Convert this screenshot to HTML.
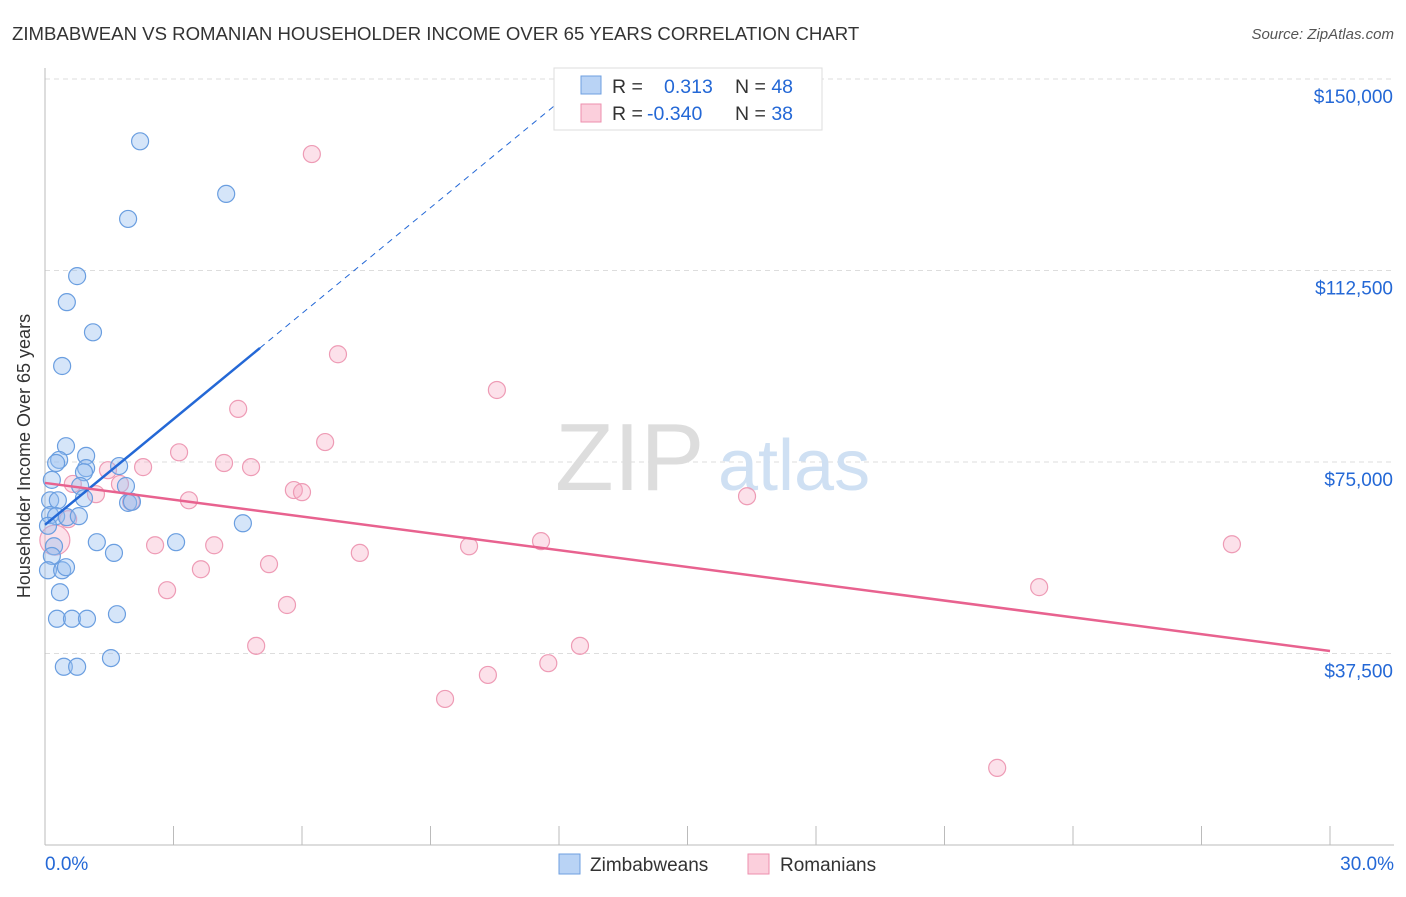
<!DOCTYPE html>
<html><head><meta charset="utf-8"><style>
body{margin:0;background:#fff;font-family:"Liberation Sans",sans-serif;}
svg text{font-family:"Liberation Sans",sans-serif;}
</style></head><body>
<svg id="chart" width="1406" height="892">
<text x="12" y="40" font-size="18.6" fill="#333">ZIMBABWEAN VS ROMANIAN HOUSEHOLDER INCOME OVER 65 YEARS CORRELATION CHART</text>
<text x="1394" y="39" font-size="15" fill="#555" text-anchor="end" font-style="italic">Source: ZipAtlas.com</text>
<text x="30" y="456" font-size="18" fill="#333" text-anchor="middle" transform="rotate(-90 30 456)">Householder Income Over 65 years</text>
<g id="grid"></g>
<g id="axes"></g>
<text x="555" y="490" font-size="96" fill="#ddd" font-family="Liberation Serif">ZIP</text>
<text x="718" y="490" font-size="72" fill="#cfe0f3">atlas</text>
<g id="pts"></g>
<g id="lines"></g>
<g>
<rect x="554" y="68" width="268" height="62" fill="#fff" stroke="#ddd"/>
<rect x="581" y="76" width="20" height="18" fill="#b9d3f5" stroke="#6e9fe0"/>
<rect x="581" y="104" width="20" height="18" fill="#fbcfdc" stroke="#ee8fae"/>
<text x="612" y="93" font-size="19.5" fill="#333">R = <tspan fill="#2468d6" x="664">0.313</tspan><tspan fill="#333" x="735">N = </tspan><tspan fill="#2468d6">48</tspan></text>
<text x="612" y="120" font-size="19.5" fill="#333">R = <tspan fill="#2468d6" x="647">-0.340</tspan><tspan fill="#333" x="735">N = </tspan><tspan fill="#2468d6">38</tspan></text>
</g>
<g>
<rect x="559" y="854" width="21" height="20" fill="#b9d3f5" stroke="#6e9fe0"/>
<text x="590" y="871" font-size="19" fill="#333">Zimbabweans</text>
<rect x="748" y="854" width="21" height="20" fill="#fbcfdc" stroke="#ee8fae"/>
<text x="780" y="871" font-size="19" fill="#333">Romanians</text>
</g>
</svg>
<script>
const yTicks=[37500,75000,112500,150000];
const yTickLabels=["$37,500","$75,000","$112,500","$150,000"];
const xTickLabels=["0.0%","30.0%"];
const blueX=[2.22,4.23,1.94,0.75,0.51,1.12,0.40,0.49,0.33,0.26,0.96,0.96,0.91,1.73,0.16,0.82,1.89,0.12,0.30,0.91,1.94,2.03,0.12,0.26,0.51,0.79,0.07,4.62,1.21,3.06,1.61,0.21,0.16,0.07,0.40,0.49,0.35,0.28,0.63,0.98,1.68,0.44,0.75,1.54];
const blueY=[137.8,127.5,122.6,111.4,106.3,100.4,93.8,78.1,75.4,74.8,76.2,73.8,73.0,74.2,71.5,70.3,70.3,67.5,67.5,67.9,67.0,67.2,64.6,64.4,64.2,64.4,62.5,63.0,59.3,59.3,57.2,58.5,56.6,53.8,53.8,54.4,49.5,44.3,44.3,44.3,45.2,34.9,34.9,36.6];
const pinkX=[6.23,6.84,10.55,4.51,6.54,3.13,4.18,4.81,2.29,1.47,1.75,0.65,1.19,3.36,5.81,6.0,16.39,2.01,0.54,0.23,2.57,3.95,9.90,11.58,27.71,7.35,3.64,5.23,2.85,5.65,23.21,4.93,12.49,11.75,10.34,9.34,22.23];
const pinkY=[135.3,96.1,89.1,85.4,78.9,76.9,74.8,74.0,74.0,73.4,70.7,70.7,68.7,67.5,69.5,69.1,68.3,67.2,63.8,59.7,58.7,58.7,58.5,59.5,58.9,57.2,54.0,55.0,49.9,47.0,50.5,39.0,39.0,35.6,33.3,28.6,15.1];
const blueTrend=[62.7,6.9];
const pinkTrend=[70.9,-1.097];
const X=p=>45+p/30*1285, Y=v=>845-v/150000*766;
const NS="http://www.w3.org/2000/svg";
function mk(t,a,parent){const e=document.createElementNS(NS,t);for(const k in a)e.setAttribute(k,a[k]);document.getElementById(parent).appendChild(e);return e;}
yTicks.forEach((v,i)=>{
 const g=mk('line',{x1:45,x2:1394,y1:Y(v),y2:Y(v),stroke:'#ddd','stroke-dasharray':'5,4'},'grid');
 
 
 const t=mk('text',{x:1393,y:Y(v)+24,'font-size':19,fill:'#2468d6','text-anchor':'end'},'axes');t.textContent=yTickLabels[i];
 
 
});
mk('line',{x1:45,x2:1394,y1:845,y2:845,stroke:'#bbb'},'axes');
mk('line',{x1:45,x2:45,y1:68,y2:845,stroke:'#bbb'},'axes');
for(let i=0;i<=10;i++){const l=mk('line',{x1:X(i*3),x2:X(i*3),y1:826,y2:845,stroke:'#bbb'},'axes');
 
 }
[[0,'start',45],[1,'end',1394]].forEach(([i,a,x])=>{const t=mk('text',{x:x,y:870,'font-size':19,fill:'#2468d6','text-anchor':a},'axes');t.textContent=xTickLabels[i];
 
 });
pinkX.forEach((x,i)=>{const c=mk('circle',{cx:X(x),cy:Y(pinkY[i]*1000),r:i==19?15:8.5,fill:'rgba(247,170,195,0.35)',stroke:'#ee9bb5','stroke-width':1.2},'pts');
 
 });
blueX.forEach((x,i)=>{const c=mk('circle',{cx:X(x),cy:Y(blueY[i]*1000),r:8.5,fill:'rgba(150,190,240,0.4)',stroke:'#6a9ee0','stroke-width':1.2},'pts');
 
 });
const bY=p=>Y((blueTrend[0]+blueTrend[1]*p)*1000);
let l=mk('line',{x1:X(0),y1:bY(0),x2:X(5.02),y2:bY(5.02),stroke:'#2468d6','stroke-width':2.5},'lines');


l=mk('line',{x1:X(5.02),y1:bY(5.02),x2:X(12.3),y2:bY(12.3),stroke:'#2468d6','stroke-width':1,'stroke-dasharray':'6,5'},'lines');


const pY=p=>Y((pinkTrend[0]+pinkTrend[1]*p)*1000);
l=mk('line',{x1:X(0),y1:pY(0),x2:X(30),y2:pY(30),stroke:'#e8628f','stroke-width':2.5},'lines');


</script>
</body></html>
